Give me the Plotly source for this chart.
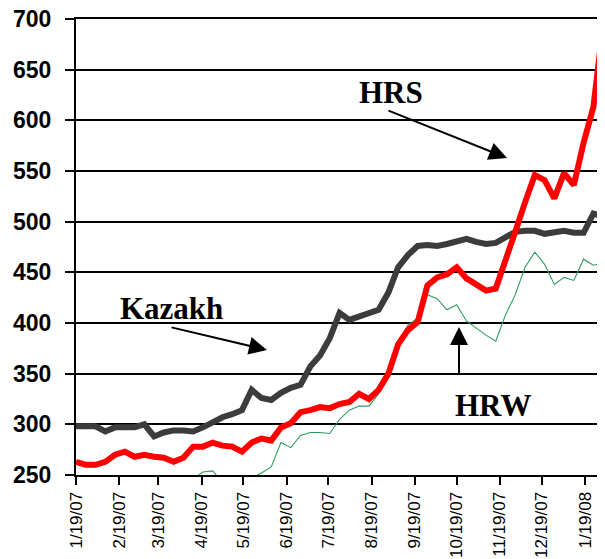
import pandas as pd
import plotly.graph_objects as go

# Weekly observation dates (Fridays, starting 1/19/07)
dates = pd.date_range("2007-01-19", periods=55, freq="7D")

kazakh = [298, 298, 298, 293, 297, 297, 297, 300, 288, 292,
          294, 294, 293, 297, 302, 307, 310, 314, 334, 326,
          324, 331, 336, 339, 357, 368, 385, 410, 403, 406,
          409, 413, 430, 455, 467, 476, 477, 476, 478, 480,
          483, 480, 478, 479, 485, 490, 491, 491, 488, 489,
          491, 489, 489, 508, 505]

hrs = [263, 260, 260, 263, 270, 273, 268, 270, 268, 267,
       263, 267, 278, 278, 282, 279, 278, 273, 282, 286,
       284, 297, 301, 312, 314, 317, 316, 320, 322, 330,
       325, 334, 350, 379, 393, 401, 437, 445, 448, 455,
       444, 438, 432, 434, 460, 490, 519, 546, 541, 523,
       548, 536, 578, 613, 694]

hrw = [None] * 12 + [
       246, 253, 254, 243, 232, 238, 247, 252,
       258, 282, 277, 289, 292, 292, 291, 305, 314, 318,
       318, 330, 350, 381, 398, 405, 428, 424, 413, 418,
       402, 395, 388, 382, 408, 428, 455, 470, 458, 438,
       445, 442, 463, 457, 459]

tick_dates = ["2007-01-19", "2007-02-19", "2007-03-19", "2007-04-19", "2007-05-19",
              "2007-06-19", "2007-07-19", "2007-08-19", "2007-09-19", "2007-10-19",
              "2007-11-19", "2007-12-19", "2008-01-19"]
tick_labels = ["1/19/07", "2/19/07", "3/19/07", "4/19/07", "5/19/07", "6/19/07",
               "7/19/07", "8/19/07", "9/19/07", "10/19/07", "11/19/07", "12/19/07",
               "1/19/08"]

fig = go.Figure()
fig.add_trace(go.Scatter(x=dates, y=hrw, mode="lines", name="HRW",
                         line=dict(color="#2f9a5e", width=1.1)))
fig.add_trace(go.Scatter(x=dates, y=kazakh, mode="lines", name="Kazakh",
                         line=dict(color="#3c3c3c", width=6)))
fig.add_trace(go.Scatter(x=dates, y=hrs, mode="lines", name="HRS",
                         line=dict(color="#ff0000", width=6)))

# page body adds an 8px offset; compensate so the plot area sits at
# x 76..604, y 19..475 in the window
OFF = 8
L, R, T, B = 76 - OFF, 1, 19 - OFF, 84
W, H = 605 - OFF, 559 - OFF
pw, ph = W - L - R, H - T - B

def px(x):
    return (x - OFF - L) / pw

def py(y):
    return 1 - (y - OFF - T) / ph

serif = dict(family="Liberation Serif, Times New Roman, serif", size=31, color="black", weight="bold")

annotations = [
    dict(text="HRS", x=px(391), y=py(92), xref="paper", yref="paper", showarrow=False,
         xanchor="center", yanchor="middle", font=serif),
    dict(text="Kazakh", x=px(171), y=py(308), xref="paper", yref="paper", showarrow=False,
         xanchor="center", yanchor="middle", font=serif),
    dict(text="HRW", x=px(493), y=py(405), xref="paper", yref="paper", showarrow=False,
         xanchor="center", yanchor="middle", font=serif),
    dict(text="", x=px(507), y=py(158), xref="paper", yref="paper", showarrow=True,
         ax=-120, ay=-48, arrowhead=2, arrowsize=1.8, arrowwidth=2, arrowcolor="black"),
    dict(text="", x=px(267), y=py(350), xref="paper", yref="paper", showarrow=True,
         ax=-97, ay=-23, arrowhead=2, arrowsize=1.8, arrowwidth=2, arrowcolor="black"),
    dict(text="", x=px(459), y=py(327), xref="paper", yref="paper", showarrow=True,
         ax=0, ay=48, arrowhead=2, arrowsize=1.8, arrowwidth=2, arrowcolor="black"),
]

fig.update_layout(
    width=W, height=H,
    margin=dict(l=L, r=R, t=T, b=B, pad=0, autoexpand=False),
    paper_bgcolor="white", plot_bgcolor="white",
    showlegend=False,
    annotations=annotations,
    xaxis=dict(
        type="date",
        range=["2007-01-19", "2008-02-01 15:00"],
        tickmode="array", tickvals=tick_dates, ticktext=tick_labels,
        tickangle=-90,
        tickfont=dict(family="Liberation Sans, Arial, sans-serif", size=17, color="black"),
        ticks="outside", ticklen=8, tickwidth=2, tickcolor="black",
        ticklabeloverflow="allow",
        showgrid=False, zeroline=False,
        showline=True, linecolor="black", linewidth=2, mirror=True,
        automargin=False,
    ),
    yaxis=dict(
        range=[250, 700], dtick=50, tick0=250,
        tickfont=dict(family="Liberation Sans, Arial, sans-serif", size=23, color="black", weight="bold"),
        ticks="outside", ticklen=9, tickwidth=2, tickcolor="black",
        ticklabelstandoff=9,
        ticklabeloverflow="allow",
        showgrid=True, gridcolor="black", gridwidth=2,
        zeroline=False,
        showline=True, linecolor="black", linewidth=2, mirror=True,
        automargin=False,
    ),
)

fig.write_html("out.html")
